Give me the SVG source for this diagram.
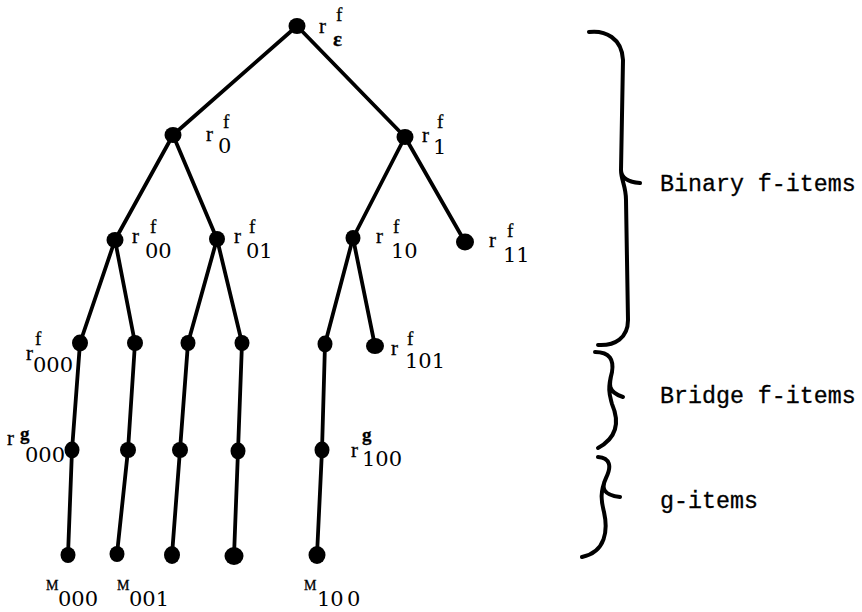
<svg xmlns="http://www.w3.org/2000/svg" width="862" height="612" viewBox="0 0 862 612">
<style>
.e{stroke:#000;stroke-width:3.8;fill:none;stroke-linecap:round}
.d{fill:#000}
.r{font-family:"Liberation Serif",serif;font-size:21px;fill:#000;stroke:#000;stroke-width:0.3}
.s{font-family:"Liberation Serif",serif;font-size:19px;fill:#000;stroke:#000;stroke-width:0.3}
.b{font-family:"DejaVu Serif",serif;font-size:21px;fill:#000}
.m{font-family:"Liberation Serif",serif;font-size:14px;fill:#000;stroke:#000;stroke-width:0.3}
.t{font-family:"Liberation Mono","Courier New",monospace;font-size:23.3px;fill:#000;stroke:#000;stroke-width:0.3}
.br{stroke:#000;stroke-width:4;fill:none;stroke-linecap:round;stroke-linejoin:round}
</style>
<rect width="862" height="612" fill="#fff"/>
<g id="connectors">
<path class="e" d="M297,26 L173,135"/>
<path class="e" d="M297,26 L405,137"/>
<path class="e" d="M173,135 L115,240"/>
<path class="e" d="M173,135 L217,239"/>
<path class="e" d="M405,137 L353,238"/>
<path class="e" d="M405,137 L465,242"/>
<path class="e" d="M115,240 L80,343"/>
<path class="e" d="M115,240 L135,343"/>
<path class="e" d="M217,239 L188,343"/>
<path class="e" d="M217,239 L242,343"/>
<path class="e" d="M353,238 L325,344"/>
<path class="e" d="M353,238 L375,346"/>
<path class="e" d="M80,343 L72,450 L68,555"/>
<path class="e" d="M135,343 L128,450 L117,554"/>
<path class="e" d="M188,343 L180,450 L172,555"/>
<path class="e" d="M242,343 L238,451 L234,556"/>
<path class="e" d="M325,344 L322,450 L317,555"/>
</g>
<g id="n-root"><ellipse class="d" cx="297" cy="26" rx="8.5" ry="8"/><text class="r" x="319" y="33">r</text><text class="s" x="336" y="21">f</text><text class="r" x="333" y="46" font-weight="bold" font-size="22">ε</text></g>
<g id="n-0"><ellipse class="d" cx="173" cy="135" rx="8.5" ry="8"/><text class="r" x="206" y="141">r</text><text class="s" x="223" y="128">f</text><text class="b" x="218" y="153">0</text></g>
<g id="n-1"><ellipse class="d" cx="405" cy="137" rx="8.5" ry="8"/><text class="r" x="422" y="142">r</text><text class="s" x="437" y="128">f</text><text class="b" x="433" y="154">1</text></g>
<g id="n-00"><ellipse class="d" cx="115" cy="240" rx="8.5" ry="8"/><text class="r" x="132" y="243">r</text><text class="s" x="150" y="233">f</text><text class="b" x="145" y="258">00</text></g>
<g id="n-01"><ellipse class="d" cx="217" cy="239" rx="8" ry="8"/><text class="r" x="234" y="243">r</text><text class="s" x="249" y="233">f</text><text class="b" x="246" y="258">01</text></g>
<g id="n-10"><ellipse class="d" cx="353" cy="238" rx="7.5" ry="8"/><text class="r" x="376" y="243">r</text><text class="s" x="393" y="233">f</text><text class="b" x="391" y="258">10</text></g>
<g id="n-11"><ellipse class="d" cx="465" cy="242" rx="9" ry="8.5"/><text class="r" x="489" y="247">r</text><text class="s" x="507" y="237">f</text><text class="b" x="503" y="262">11</text></g>
<g id="n-000"><ellipse class="d" cx="80" cy="343" rx="8" ry="8.5"/><text class="s" x="35" y="345">f</text><text class="r" x="26" y="360">r</text><text class="b" x="33" y="372">000</text></g>
<g id="n-001"><ellipse class="d" cx="135" cy="343" rx="8" ry="8"/></g>
<g id="n-010"><ellipse class="d" cx="188" cy="343" rx="7.5" ry="8"/></g>
<g id="n-011"><ellipse class="d" cx="242" cy="343" rx="7.5" ry="8"/></g>
<g id="n-100"><ellipse class="d" cx="325" cy="344" rx="7.5" ry="8.5"/></g>
<g id="n-101"><ellipse class="d" cx="375" cy="346" rx="9" ry="8"/><text class="r" x="391" y="355">r</text><text class="s" x="407" y="345">f</text><text class="b" x="405" y="368">101</text></g>
<g id="g-000"><ellipse class="d" cx="72" cy="450" rx="7.5" ry="8.5"/><text class="r" x="7" y="445">r</text><text class="s" x="20" y="440" font-weight="bold">g</text><text class="b" x="25" y="462">000</text></g>
<g id="g-001"><ellipse class="d" cx="128" cy="450" rx="8" ry="8"/></g>
<g id="g-010"><ellipse class="d" cx="180" cy="450" rx="8" ry="8"/></g>
<g id="g-011"><ellipse class="d" cx="238" cy="451" rx="7.5" ry="8.5"/></g>
<g id="g-100"><ellipse class="d" cx="322" cy="450" rx="7.5" ry="8.5"/><text class="s" x="362" y="441" font-weight="bold">g</text><text class="r" x="351" y="457">r</text><text class="b" x="362" y="466">100</text></g>
<g id="m-000"><ellipse class="d" cx="68" cy="555" rx="7.5" ry="8"/><text class="m" x="46" y="590">M</text><text class="b" x="58" y="606">000</text></g>
<g id="m-001"><ellipse class="d" cx="117" cy="554" rx="7.5" ry="8"/><text class="m" x="117" y="590">M</text><text class="b" x="129" y="606">001</text></g>
<g id="m-010"><ellipse class="d" cx="172" cy="555" rx="8" ry="9"/></g>
<g id="m-011"><ellipse class="d" cx="234" cy="556" rx="9.5" ry="9"/></g>
<g id="m-100"><ellipse class="d" cx="317" cy="555" rx="8.5" ry="9"/><text class="m" x="304" y="590">M</text><text class="b" x="317" y="606">10</text><text class="b" x="347" y="606">0</text></g>
<g id="brace-binary">
<path class="br" d="M589,32 C605,30 622,38 623,60 L621,170 C621,178 628,182 640,183 M621,170 C621,180 626,186 626,200 L628,320 C628,338 615,346 598,345"/>
<text class="t" x="660" y="191">Binary f-items</text>
</g>
<g id="brace-bridge">
<path class="br" d="M595,352 C610,352 614,360 612,372 C609,384 607,392 623,397 M612,372 C607,390 610,396 612,404 C618,418 620,436 598,448"/>
<text class="t" x="660" y="403">Bridge f-items</text>
</g>
<g id="brace-g">
<path class="br" d="M598,457 C610,458 612,466 606,478 C601,488 603,495 620,497 M606,478 C600,492 601,500 604,512 C608,530 606,552 582,557"/>
<text class="t" x="660" y="508">g-items</text>
</g>
</svg>
